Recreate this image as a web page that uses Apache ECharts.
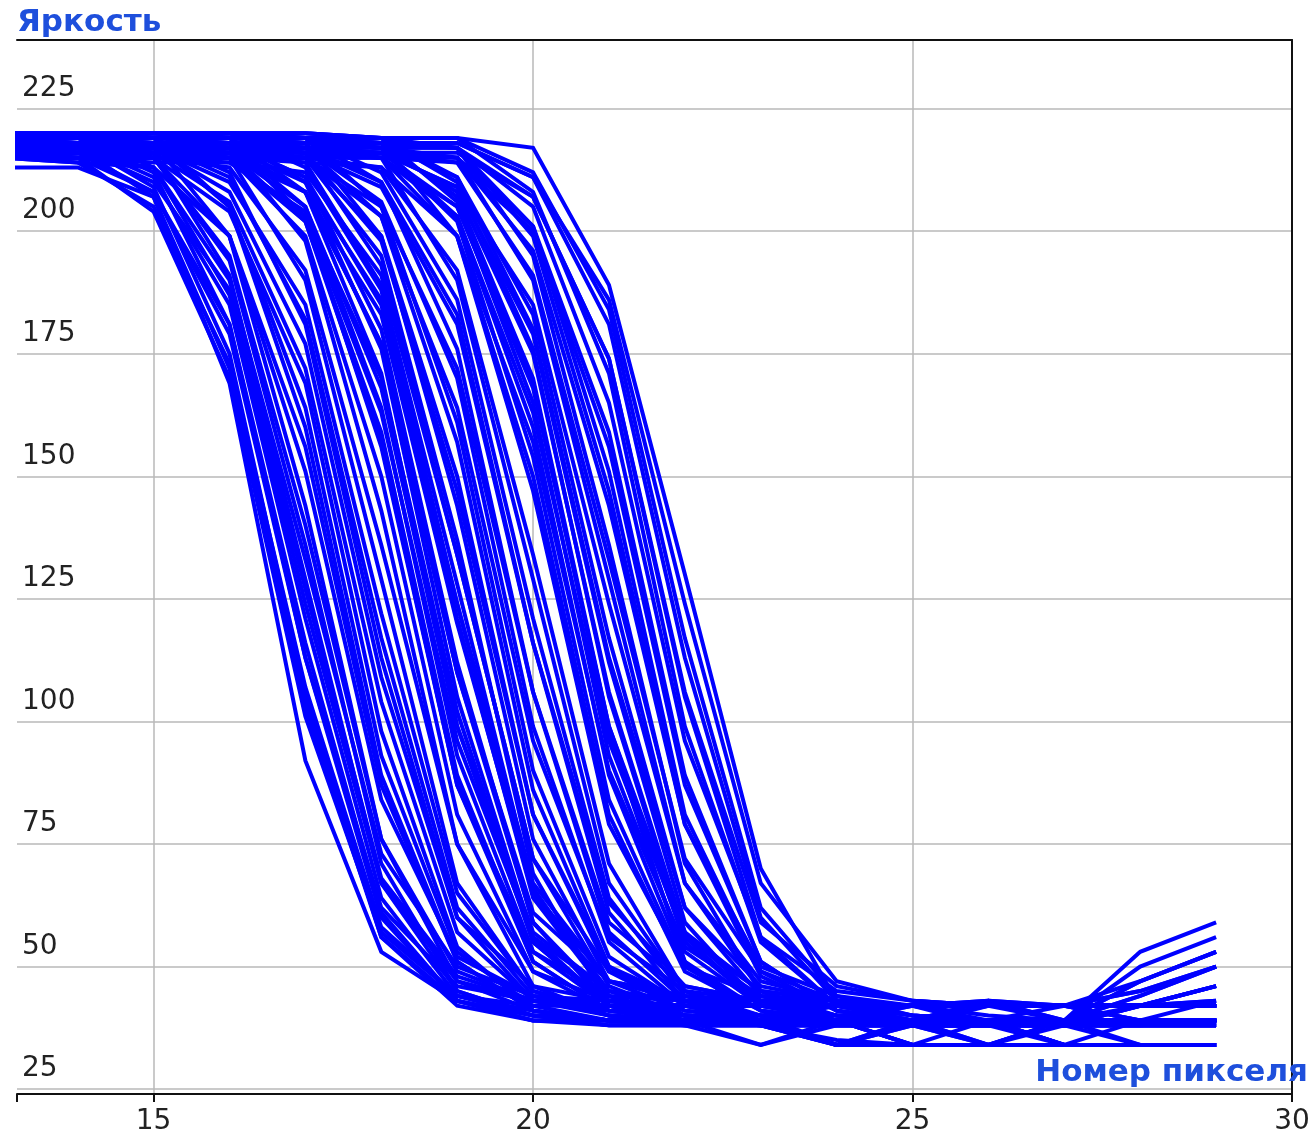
<!DOCTYPE html>
<html>
<head>
<meta charset="utf-8">
<script src="https://cdn.jsdelivr.net/npm/echarts@6/dist/echarts.min.js"></script>
<style>html,body{margin:0;padding:0;background:#fff}#chart{width:1315px;height:1144px}</style>
</head>
<body>
<div id="chart"></div>
<script>
// Pixel numbers (x) for every profile
const pixelNumber = [13,14,15,16,17,18,19,20,21,22,23,24,25,26,27,28,29];
// Tick labels
const brightnessTicks = [25,50,75,100,125,150,175,200,225];
const pixelTicks = [15,20,25,30];
// Brightness profiles, grouped by where the edge falls
const edgesNear16 = [
  [213,213,207,169,92,53,43,39,39,39,39,39,39,39,39,39,39],
  [215,215,204,170,101,57,44,42,42,42,42,42,42,42,42,42,43],
  [217,217,207,172,103,56,43,40,38,38,38,34,34,34,34,34,34],
  [218,218,209,175,105,56,42,39,39,38,38,38,38,38,38,42,46],
  [215,214,205,173,107,58,44,41,39,39,39,39,42,39,42,39,39],
  [216,216,208,179,113,62,46,43,42,42,42,42,42,42,42,42,42],
  [219,219,212,181,113,60,43,40,39,39,39,39,42,43,39,50,56],
  [215,215,208,181,116,61,43,39,38,38,38,38,38,38,39,44,50],
  [217,218,211,185,121,64,44,40,39,39,39,34,34,34,34,34,34],
  [220,220,213,187,124,67,47,43,42,42,42,42,42,42,42,42,42],
  [216,217,210,188,127,68,48,43,42,42,42,42,42,38,34,34,34]
];
const edgesNear17 = [
  [219,218,216,191,129,67,45,40,39,39,39,39,39,39,39,39,39],
  [216,215,213,190,133,73,50,44,43,42,42,42,40,39,39,47,53],
  [218,217,215,194,136,71,45,40,38,38,34,38,38,34,34,34,34],
  [218,217,215,195,140,76,49,43,42,42,39,42,39,42,39,39,39],
  [220,219,218,199,144,76,47,41,39,39,39,34,38,42,42,39,39],
  [217,216,215,199,151,84,52,44,42,42,42,42,42,42,42,42,42],
  [215,214,213,199,156,87,51,41,39,39,39,39,39,39,39,39,43],
  [220,219,219,205,160,89,51,41,39,39,34,39,34,39,34,39,39],
  [219,218,218,205,164,93,53,42,39,39,39,39,39,39,39,42,46],
  [216,215,215,204,169,98,54,41,39,38,38,38,38,38,38,38,39],
  [217,216,216,206,172,104,57,43,41,39,39,34,39,34,39,34,34],
  [218,217,217,208,177,109,60,46,43,42,42,42,42,43,42,45,50],
  [220,219,219,212,181,113,60,43,40,39,39,39,34,34,34,34,34],
  [219,218,218,211,182,117,62,44,40,39,39,39,39,39,39,39,39],
  [217,216,217,210,185,122,65,45,41,40,40,38,38,38,38,42,46]
];
const edgesNear18 = [
  [218,219,217,215,190,129,67,45,40,39,39,39,39,39,39,39,39],
  [215,216,215,213,192,136,75,49,43,42,42,42,42,42,42,42,43],
  [219,219,218,217,198,143,75,46,40,38,38,34,34,34,34,34,34],
  [217,217,216,215,199,150,81,49,41,39,39,39,39,43,39,39,39],
  [220,220,219,218,203,156,87,53,44,43,42,42,42,42,42,42,42],
  [218,218,217,216,202,157,87,51,41,40,39,39,39,39,39,53,59],
  [216,215,215,215,202,159,89,51,41,39,38,34,38,34,38,34,34],
  [219,219,218,218,205,164,93,53,42,40,39,39,34,34,34,34,34],
  [216,216,215,215,203,163,96,56,45,43,42,42,42,42,42,42,42],
  [217,217,216,216,205,168,99,57,45,43,42,42,42,42,42,45,50],
  [220,220,219,219,208,171,99,55,42,40,39,39,39,39,39,39,39],
  [215,215,214,214,204,170,102,55,42,39,38,38,38,38,38,42,46],
  [218,218,217,217,208,177,110,61,47,44,43,43,42,42,42,47,53],
  [220,220,219,219,210,176,105,56,42,39,39,39,34,34,39,39,39],
  [217,217,216,216,208,177,110,59,43,40,39,39,39,39,34,34,34],
  [219,219,218,218,211,180,112,59,42,39,38,38,38,38,38,38,38],
  [216,216,215,215,208,183,120,65,47,44,42,42,42,42,42,42,42],
  [218,218,218,218,211,185,121,64,44,40,39,39,39,39,39,44,50],
  [217,217,217,217,210,186,124,67,47,43,42,42,42,42,42,42,42],
  [220,220,219,220,213,188,124,65,45,40,39,39,39,39,39,39,39]
];
const edgesNear19 = [
  [217,217,217,216,214,189,128,66,44,39,38,38,38,38,38,38,38],
  [219,219,219,218,216,193,134,72,49,43,42,42,42,42,42,42,42],
  [215,215,215,214,212,191,134,72,46,40,39,39,39,39,39,39,39],
  [218,218,218,217,215,195,137,69,42,39,39,34,34,34,34,34,34],
  [220,220,220,219,218,199,144,76,47,41,40,42,42,42,42,42,42],
  [218,218,218,217,216,198,147,81,50,43,42,42,39,43,42,39,39],
  [217,217,217,216,215,199,150,81,49,41,39,39,39,39,39,47,53],
  [219,219,219,218,217,203,157,86,50,40,39,34,39,39,34,34,34],
  [220,220,220,219,219,205,161,90,52,42,39,39,39,39,39,39,39],
  [216,216,216,215,215,203,164,96,56,45,43,42,42,42,42,42,42],
  [218,218,218,217,217,206,170,99,55,42,40,39,39,39,39,39,39],
  [216,216,216,215,215,205,172,106,59,46,43,42,42,42,42,42,42],
  [220,220,220,219,219,210,176,106,57,43,40,34,34,34,34,34,34],
  [217,217,217,217,216,209,181,116,63,46,43,42,42,42,42,42,42],
  [218,218,218,218,217,210,183,116,61,43,39,38,38,38,38,38,38],
  [219,219,219,219,219,212,186,121,64,44,40,39,39,39,39,39,39]
];
const edgesNear20 = [
  [218,218,218,218,217,215,190,129,67,45,40,39,39,39,39,39,39],
  [216,216,216,216,215,213,192,134,71,45,39,39,39,34,39,39,39],
  [220,220,220,220,219,218,199,147,79,50,44,42,42,42,42,42,42],
  [217,217,217,217,216,215,199,150,81,49,41,39,39,39,34,34,34],
  [219,219,219,219,218,217,202,154,84,50,41,39,39,39,39,39,39],
  [215,215,215,215,214,213,199,157,90,54,44,43,42,42,42,42,42],
  [218,218,218,218,217,217,203,160,89,51,41,39,38,38,38,38,38],
  [216,216,216,216,215,215,203,163,96,56,45,43,42,42,42,42,42],
  [220,220,220,220,219,219,206,165,93,53,42,40,39,39,39,39,39],
  [217,217,217,217,216,216,205,168,99,57,45,43,42,42,42,42,42],
  [219,219,219,219,218,218,207,170,99,55,42,40,39,39,39,39,39],
  [216,216,216,216,215,215,205,169,98,51,38,35,34,34,34,34,34],
  [218,218,218,218,217,217,208,175,106,57,43,40,39,39,39,39,39],
  [220,220,220,220,219,219,210,176,105,56,42,39,38,38,38,38,38],
  [220,220,220,220,219,219,211,180,113,62,46,43,42,42,42,42,42],
  [217,217,217,217,216,216,209,179,112,59,42,39,38,38,38,38,38],
  [219,219,219,219,218,218,211,183,117,62,44,40,39,39,39,39,39],
  [216,216,216,216,215,216,209,185,124,67,47,43,42,42,42,42,42]
];
const edgesNear21 = [
  [218,218,218,218,218,217,215,190,129,67,45,40,39,39,39,39,39],
  [217,217,217,217,217,216,214,191,133,72,49,43,42,42,42,42,42],
  [220,220,220,220,220,219,217,195,136,71,45,39,38,38,38,38,38],
  [217,217,217,217,217,216,215,196,144,79,50,44,42,42,42,42,42],
  [219,219,219,219,219,218,217,199,147,79,48,41,39,39,39,39,39],
  [219,219,219,219,219,218,217,201,151,81,49,41,39,39,39,39,39],
  [216,216,216,216,216,215,214,200,156,87,51,41,39,39,39,39,39],
  [216,216,216,216,216,215,215,201,159,89,51,41,38,38,38,38,38],
  [218,218,218,218,218,217,217,205,165,96,56,45,43,42,42,42,42],
  [220,220,220,220,220,219,219,208,171,99,55,42,40,39,39,39,39],
  [218,218,218,218,218,217,217,207,174,106,59,46,43,42,42,42,42],
  [217,217,217,217,217,216,216,207,174,105,56,42,39,38,38,38,38],
  [219,219,219,219,219,218,218,211,181,113,60,43,40,39,39,39,39],
  [220,220,220,220,220,219,219,212,184,117,62,44,40,39,39,39,39],
  [218,218,218,218,218,217,218,211,186,124,67,47,43,42,42,42,42],
  [219,219,219,219,219,219,219,217,189,130,70,43,42,40,39,39,39]
];

const profiles = [].concat(edgesNear16, edgesNear17, edgesNear18, edgesNear19, edgesNear20, edgesNear21);
const blue = '#0000ff';
const nameColor = '#1e4fdc';
const labelColor = '#222222';

const series = profiles.map(function (p, idx) {
  return {
    type: 'line',
    name: 'p' + idx,
    data: pixelNumber.map(function (x, i) { return [x, p[i]]; }),
    showSymbol: false,
    symbol: 'none',
    silent: true,
    clip: true,
    lineStyle: { color: blue, width: 4, join: 'miter' },
    emphasis: { disabled: true }
  };
});

const chart = echarts.init(document.getElementById('chart'), null, { renderer: 'canvas' });
chart.setOption({
  animation: false,
  backgroundColor: '#ffffff',
  grid: { left: 17, top: 40, width: 1275, height: 1054, containLabel: false },
  xAxis: [
    {
      type: 'value', position: 'bottom', min: 13.2, max: 30,
      minInterval: 5, maxInterval: 5,
      name: 'Номер пикселя', nameLocation: 'end', nameGap: 16,
      nameTextStyle: { fontFamily: 'DejaVu Sans', fontWeight: 'bold', fontSize: 31, color: nameColor, align: 'right', verticalAlign: 'bottom', padding: [0, 0, 6, 0] },
      axisLine: { show: true, onZero: false, lineStyle: { color: '#111', width: 2 } },
      axisTick: { show: true, length: 8, lineStyle: { color: '#111', width: 2 } },
      axisLabel: {
        show: true, margin: 14, fontFamily: 'DejaVu Sans', fontSize: 28, color: labelColor,
        formatter: function (v) { return pixelTicks.indexOf(v) >= 0 ? String(v) : ''; }
      },
      splitLine: { show: true, showMinLine: false, showMaxLine: false, lineStyle: { color: '#b8b8b8', width: 1.5 } }
    },
    {
      type: 'value', position: 'top', min: 13.2, max: 30,
      axisLine: { show: true, onZero: false, lineStyle: { color: '#111', width: 2 } },
      axisTick: { show: false }, axisLabel: { show: false }, splitLine: { show: false }
    }
  ],
  yAxis: [
    {
      type: 'value', position: 'left', min: 24, max: 239,
      minInterval: 25, maxInterval: 25,
      name: 'Яркость', nameLocation: 'end', nameGap: 2,
      nameTextStyle: { fontFamily: 'DejaVu Sans', fontWeight: 'bold', fontSize: 31, color: nameColor, align: 'left', verticalAlign: 'bottom' },
      axisLine: { show: false },
      axisTick: { show: false },
      axisLabel: {
        show: true, inside: true, margin: 5, align: 'left', verticalAlign: 'bottom',
        padding: [0, 0, 6, 0], fontFamily: 'DejaVu Sans', fontSize: 28, color: labelColor,
        formatter: function (v) { return brightnessTicks.indexOf(v) >= 0 ? String(v) : ''; }
      },
      splitLine: { show: true, showMinLine: false, showMaxLine: false, lineStyle: { color: '#b8b8b8', width: 1.5 } }
    },
    {
      type: 'value', position: 'right', min: 24, max: 239,
      axisLine: { show: true, onZero: false, lineStyle: { color: '#111', width: 2 } },
      axisTick: { show: false }, axisLabel: { show: false }, splitLine: { show: false }
    }
  ],
  series: series
});
</script>
</body>
</html>
